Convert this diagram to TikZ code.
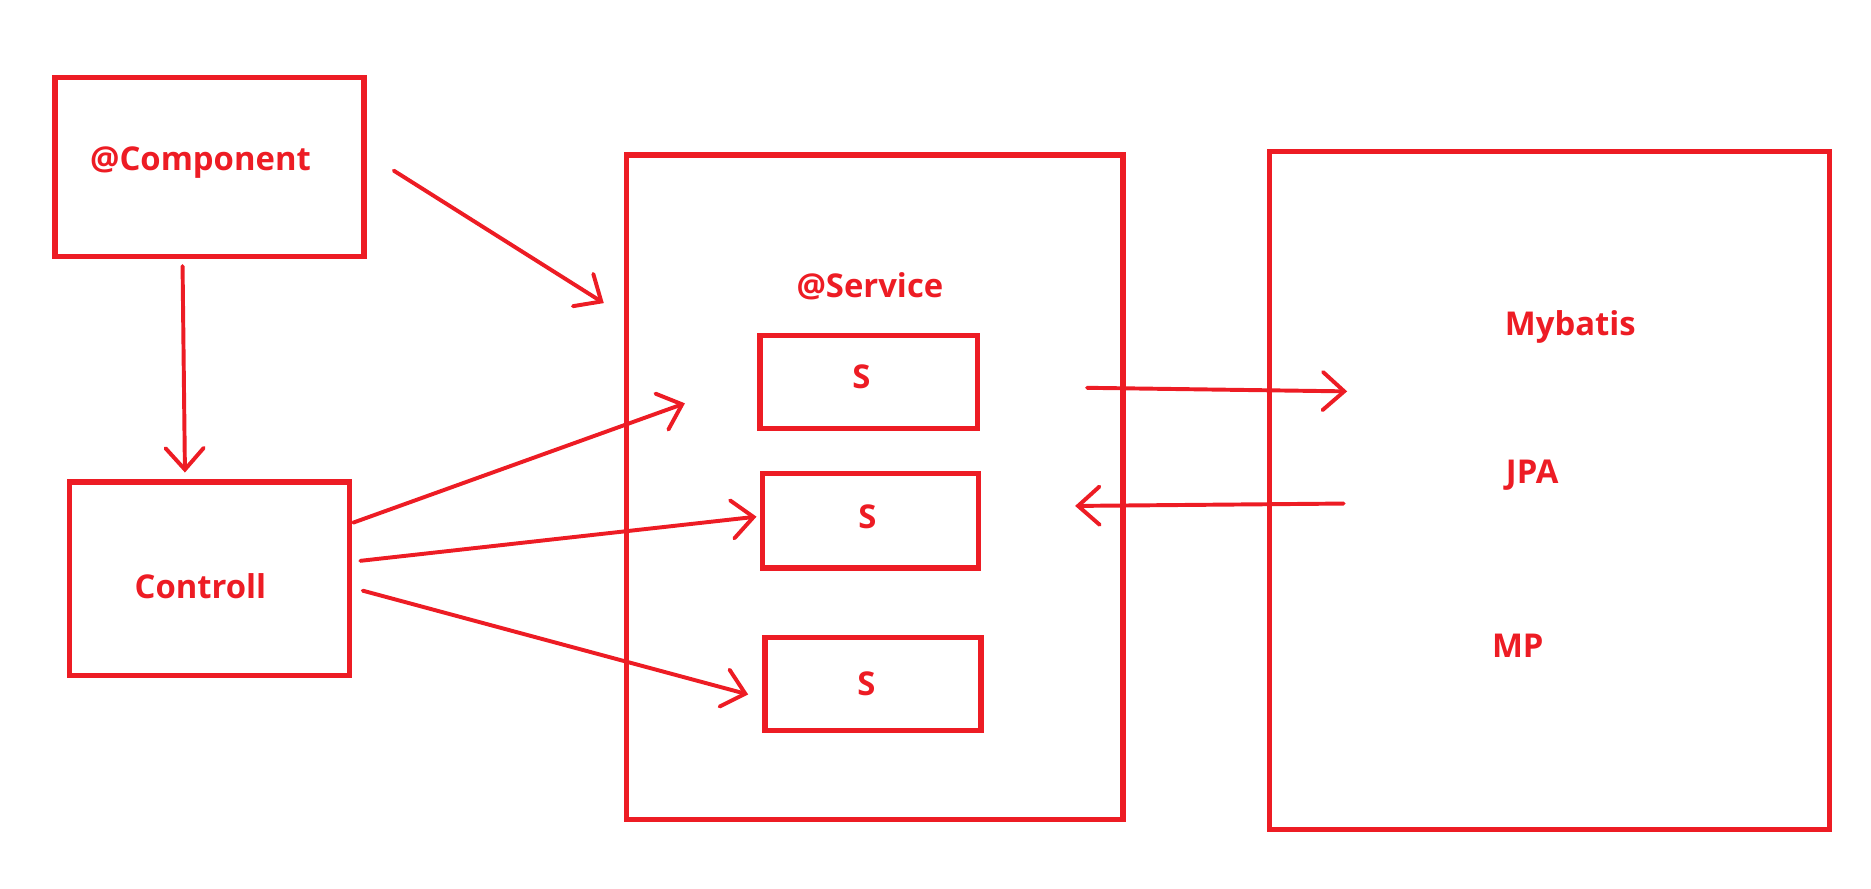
\documentclass[tikz,border=0pt]{standalone}
\usepackage{fontspec}
\setmainfont{Open Sans}
\usetikzlibrary{arrows.meta}
\definecolor{pred}{RGB}{237,28,36}
\begin{document}
\begin{tikzpicture}[x=1pt,y=-1pt,
  box/.style={draw=pred,line width=4.5pt,minimum width=#1,inner sep=0pt},
  lbl/.style={text=pred,font=\fontsize{27.5}{32}\selectfont\bfseries,inner sep=0pt},
  arr/.style={draw=pred,line width=3.3pt,line cap=round,-{Straight Barb[length=18pt,width=32pt,line cap=round]}}]
\useasboundingbox (0,0) rectangle (1568,745);
% boxes
\node[box=259pt,minimum height=150pt] (comp) at (175.5,140) {};
\node[box=235pt,minimum height=162pt] (ctrl) at (175.5,485) {};
\node[box=416pt,minimum height=557pt] (serv) at (733,408.5) {};
\node[box=182pt,minimum height=78pt] (s1) at (728,320) {};
\node[box=181pt,minimum height=79pt] (s2) at (729.5,436.5) {};
\node[box=181pt,minimum height=78pt] (s3) at (731.5,573) {};
\node[box=469pt,minimum height=568pt] (right) at (1298.5,411) {};
% labels
\node[lbl] (tcomp) at (168,136) {@Component};
\node[lbl] (tctrl) at (168,491) {Controll};
\node[lbl] (tserv) at (729,240) {@Service};
\node[lbl] (ts1) at (722,316) {S};
\node[lbl] (ts2) at (727,433) {S};
\node[lbl] (ts3) at (726,573) {S};
\node[lbl] (tmyb) at (1316,274) {Mybatis};
\node[lbl] (tjpa) at (1284,398) {JPA};
\node[lbl] (tmp) at (1272,541) {MP};
% connector end points
\coordinate (a1) at (153,223);
\coordinate (a2) at (155,396);
\coordinate (b1) at (330,143);
\coordinate (b2) at (506,254);
\coordinate (c1) at (296,438);
\coordinate (c2) at (574,338);
\coordinate (d1) at (302,470);
\coordinate (d2) at (634,433);
\coordinate (e1) at (304,495);
\coordinate (e2) at (627,582);
\coordinate (f1) at (911,325);
\coordinate (f2) at (1129,328);
\coordinate (g1) at (1126,422);
\coordinate (g2) at (901,424);
% connectors
\draw[arr] (a1) -- (a2);
\draw[arr] (b1) -- (b2);
\draw[arr] (c1) -- (c2);
\draw[arr] (d1) -- (d2);
\draw[arr] (e1) -- (e2);
\draw[arr] (f1) -- (f2);
\draw[arr] (g1) -- (g2);
\end{tikzpicture}
\end{document}
